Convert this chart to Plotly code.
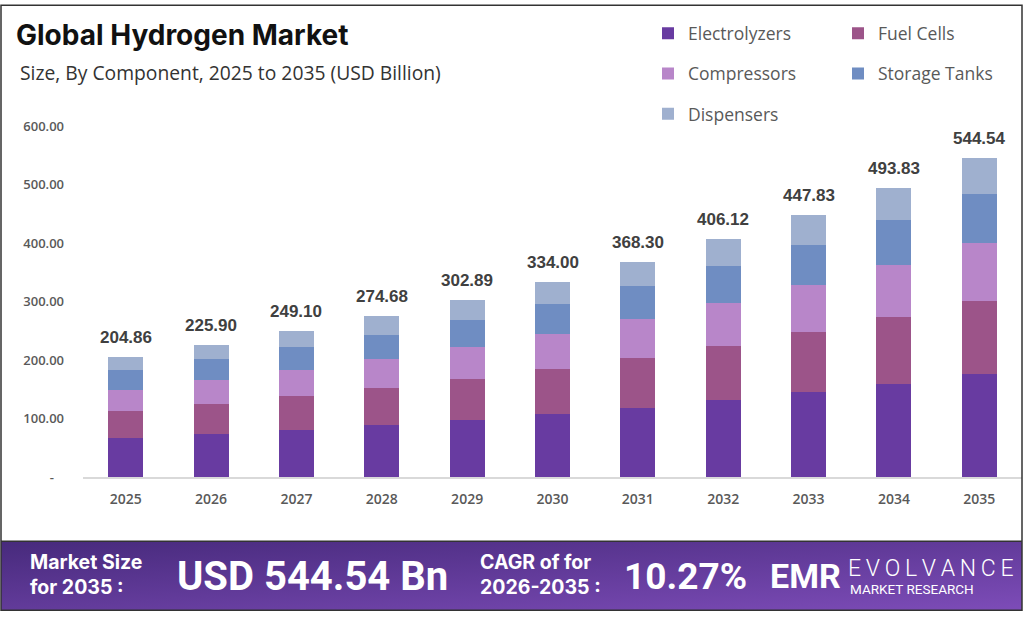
import plotly.graph_objects as go

years = ["2025", "2026", "2027", "2028", "2029", "2030", "2031", "2032", "2033", "2034", "2035"]
totals = [204.86, 225.90, 249.10, 274.68, 302.89, 334.00, 368.30, 406.12, 447.83, 493.83, 544.54]
electrolyzers = [66.7, 73.0, 79.8, 88.9, 98.1, 108.4, 118.6, 131.1, 145.3, 159.5, 175.6]
fuel_cells = [46.1, 52.5, 58.1, 62.7, 69.4, 76.2, 85.5, 93.5, 102.1, 114.0, 125.9]
compressors = [36.6, 41.0, 44.5, 50.1, 54.7, 60.5, 66.0, 72.8, 81.5, 88.4, 98.0]
storage_tanks = [33.0, 34.7, 39.3, 41.0, 46.8, 51.3, 57.1, 63.3, 68.4, 76.9, 84.3]
dispensers = [round(t - e - f - c - s, 2) for t, e, f, c, s in
              zip(totals, electrolyzers, fuel_cells, compressors, storage_tanks)]
ytick_vals = [0, 100, 200, 300, 400, 500, 600]
ytick_text = ["-\u00a0\u00a0\u00a0", "100.00", "200.00", "300.00", "400.00", "500.00", "600.00"]

W, H = 1024, 617
PL, PR, PT, PB = 83, 1022, 125.7, 476.7


def px(x):
    return (x - PL) / (PR - PL)


def py(y):
    return (PB - y) / (PB - PT)


series = [
    ("Electrolyzers", electrolyzers, "#683ba1", "legend"),
    ("Fuel Cells", fuel_cells, "#9c5489", "legend2"),
    ("Compressors", compressors, "#b886c9", "legend"),
    ("Storage Tanks", storage_tanks, "#6f8dc2", "legend2"),
    ("Dispensers", dispensers, "#9fb0cf", "legend"),
]

fig = go.Figure()
for name, vals, color, lg in series:
    fig.add_trace(go.Bar(
        x=years, y=vals, name=name, marker=dict(color=color, line=dict(width=0)),
        legend=lg, legendgroup=name, hoverinfo="x+y+name",
    ))

# total labels: category index positions on the category axis
for i, t in enumerate(totals):
    fig.add_annotation(x=i, y=t, xref="x", yref="y", text=f"<b>{t:.2f}</b>", showarrow=False,
                       yanchor="bottom", yshift=8,
                       font=dict(family="Liberation Sans, Arial", size=17, color="#404040"))

legend_common = dict(
    orientation="v", traceorder="grouped", tracegroupgap=14.5,
    font=dict(family="Open Sans", size=17.5, color="#595959"),
    bgcolor="rgba(0,0,0,0)", xanchor="left", yanchor="top",
    itemclick=False, itemdoubleclick=False,
)

fig.update_layout(
    width=W, height=H,
    margin=dict(l=PL, r=W - PR, t=PT, b=H - PB, pad=0),
    paper_bgcolor="white", plot_bgcolor="white",
    barmode="stack", bargap=0.59,
    showlegend=True,
    legend=dict(x=px(648), y=py(15), **legend_common),
    legend2=dict(x=px(838), y=py(15), **legend_common),
    xaxis=dict(type="category", range=[-0.5, len(years) - 0.5], autorange=False,
               showgrid=False, showline=True, linecolor="#d9d9d9",
               linewidth=1.5, ticks="", ticklabelstandoff=8,
               tickfont=dict(family="Open Sans", size=14, color="#595959", weight=600)),
    yaxis=dict(range=[0, 600], autorange=False, tickvals=ytick_vals, ticktext=ytick_text,
               showgrid=False, zeroline=False, showline=False, ticks="", ticklabelstandoff=18,
               tickfont=dict(family="Open Sans", size=13, color="#595959", weight=600)),
)

# Outer frame
fig.add_shape(type="rect", xref="paper", yref="paper", x0=px(1), x1=px(1022), y0=py(610), y1=py(5),
              line=dict(color="#333333", width=1.5), fillcolor="rgba(0,0,0,0)", layer="above")

# Banner background (gradient via inline SVG)
svg = ("data:image/svg+xml;utf8,<svg xmlns='http://www.w3.org/2000/svg' width='1022' height='69' "
       "preserveAspectRatio='none'><defs><linearGradient id='g' x1='0' y1='0' x2='1' y2='1'>"
       "<stop offset='0' stop-color='%23472a7c'/><stop offset='1' stop-color='%237d4cb8'/>"
       "</linearGradient></defs><rect width='1022' height='69' fill='url(%23g)'/></svg>")
fig.add_layout_image(source=svg, xref="paper", yref="paper", x=px(1), y=py(541),
                     sizex=px(1022) - px(1), sizey=py(541) - py(610), xanchor="left", yanchor="top",
                     sizing="stretch", layer="below")
fig.add_shape(type="line", xref="paper", yref="paper", x0=px(1), x1=px(1022), y0=py(541), y1=py(541),
              line=dict(color="#333333", width=1.5))

# Titles
fig.add_annotation(xref="paper", yref="paper", x=px(14), y=py(35), xanchor="left", yanchor="middle",
                   text="<b>Global Hydrogen Market</b>", showarrow=False,
                   font=dict(family="Inter", size=28, color="#111111"))
fig.add_annotation(xref="paper", yref="paper", x=px(18), y=py(72), xanchor="left", yanchor="middle",
                   text="Size, By Component, 2025 to 2035 (USD Billion)", showarrow=False,
                   font=dict(family="Open Sans", size=19.3, color="#333333"))

# Banner texts
fig.add_annotation(xref="paper", yref="paper", x=px(28), y=py(574), xanchor="left", yanchor="middle",
                   text="<b>Market Size<br>for 2035 :</b>", showarrow=False, align="left",
                   font=dict(family="Inter", size=19.5, color="white"))
fig.add_annotation(xref="paper", yref="paper", x=px(175), y=py(576), xanchor="left", yanchor="middle",
                   text="<b>USD 544.54 Bn</b>", showarrow=False,
                   font=dict(family="Roboto", size=40, color="white"))
fig.add_annotation(xref="paper", yref="paper", x=px(478), y=py(574), xanchor="left", yanchor="middle",
                   text="<b>CAGR of for<br>2026-2035 :</b>", showarrow=False, align="left",
                   font=dict(family="Inter", size=19.5, color="white"))
fig.add_annotation(xref="paper", yref="paper", x=px(622), y=py(576), xanchor="left", yanchor="middle",
                   text="<b>10.27%</b>", showarrow=False,
                   font=dict(family="Roboto", size=37, color="white"))
fig.add_annotation(xref="paper", yref="paper", x=px(768), y=py(576), xanchor="left", yanchor="middle",
                   text="<b>EMR</b>", showarrow=False,
                   font=dict(family="Roboto", size=34, color="white"))
fig.add_annotation(xref="paper", yref="paper", x=px(846), y=py(568), xanchor="left", yanchor="middle",
                   text="\u2009".join("EVOLVANCE"), showarrow=False,
                   font=dict(family="Roboto", size=23, color="white", weight=300))
fig.add_annotation(xref="paper", yref="paper", x=px(848), y=py(589), xanchor="left", yanchor="middle",
                   text="MARKET RESEARCH", showarrow=False,
                   font=dict(family="Roboto", size=13.5, color="white"))

fig.write_html("out.html")
